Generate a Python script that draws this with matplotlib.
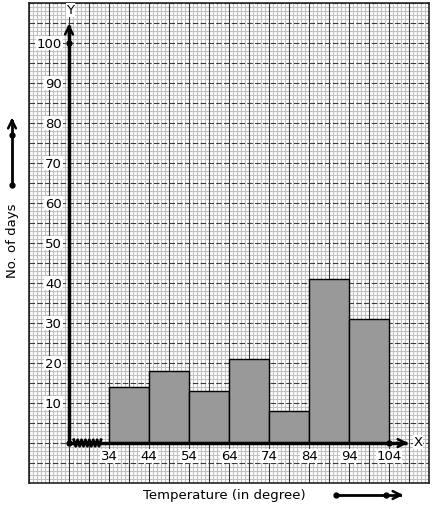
import numpy as np
import matplotlib
matplotlib.use("Agg")
import matplotlib.pyplot as plt

# Data
class_edges = [34, 44, 54, 64, 74, 84, 94, 104]
num_days = [14, 18, 13, 21, 8, 41, 31]
y_tick_values = [10, 20, 30, 40, 50, 60, 70, 80, 90, 100]
x_label_text = "Temperature (in degree)"
y_label_text = "No. of days"

fig = plt.figure(figsize=(4.34, 5.10), dpi=100)
ax = fig.add_axes([29/434, 26/510, 400/434, 480/510])
x0, x1, y0, y1 = 14, 114, -10, 110
ax.set_xlim(x0, x1)
ax.set_ylim(y0, y1)
ax.set_xticks([]); ax.set_yticks([])
for s in ax.spines.values():
    s.set_linewidth(1.2)
    s.set_color('#222222')

# graph paper
for v in np.arange(x0, x1 + 1, 1):
    if (v - x0) % 5:
        ax.axvline(v, color='#c2c2c2', lw=0.8, zorder=0)
for v in np.arange(y0, y1 + 1, 1):
    if (v - y0) % 5:
        ax.axhline(v, color='#c2c2c2', lw=0.8, zorder=0)
for v in np.arange(x0, x1 + 1, 5):
    ax.axvline(v, color='#3c3c3c', lw=0.8, zorder=1)
for v in np.arange(y0, y1 + 1, 5):
    ax.axhline(v, color='#3c3c3c', lw=0.8, ls=(0, (5, 2)), zorder=1)

# bars
ax.bar(class_edges[:-1], num_days, width=np.diff(class_edges), align='edge',
       color='#999999', edgecolor='black', lw=1.0, zorder=3)

# axes
ox = 24
ax.plot([ox, ox], [0, 104.5], color='black', lw=2.5, zorder=5, solid_capstyle='butt')
ax.annotate('', xy=(ox, 105.5), xytext=(ox, 101), zorder=6,
            arrowprops=dict(arrowstyle='->', lw=1.8, color='black', mutation_scale=14))
ax.plot([ox, 108.5], [0, 0], color='black', lw=2.5, zorder=5, solid_capstyle='butt')
ax.annotate('', xy=(109.5, 0), xytext=(105, 0), zorder=6,
            arrowprops=dict(arrowstyle='->', lw=1.8, color='black', mutation_scale=14))
ax.plot([ox, ox, class_edges[-1]], [0, 100, 0], 'o', color='black', ms=3.5, zorder=7)
ax.text(ox + 0.3, 108.3, 'Y', ha='center', va='center', fontsize=9.5, zorder=8,
        bbox=dict(facecolor='white', edgecolor='none', pad=0.5))
ax.text(111.3, 0.3, 'X', ha='center', va='center', fontsize=9.5, zorder=8,
        bbox=dict(facecolor='white', edgecolor='none', pad=0.5))

# zigzag kink
zx = np.linspace(25.2, 32, 15)
zy = np.array([1, -1] * 8)[:15] * 0.8
ax.plot(zx, zy, color='black', lw=2.0, zorder=7)

# tick labels
for v in y_tick_values:
    ax.text(ox - 1.8, v, str(v), ha='right', va='center', fontsize=9.5, zorder=8,
            bbox=dict(facecolor='white', edgecolor='none', pad=0.6))
for v in class_edges:
    ax.text(v, -3.2, str(v), ha='center', va='center', fontsize=9.5, zorder=8,
            bbox=dict(facecolor='white', edgecolor='none', pad=0.6))

# axis titles and arrows outside
fig.text(143/434, 1 - 496/510, x_label_text, ha='left', va='center', fontsize=9.5)
fig.text(13/434, 1 - 241/510, y_label_text, ha='center', va='center', fontsize=9.5, rotation=90)

fa = fig.add_axes([0, 0, 1, 1], facecolor='none')
fa.set_xlim(0, 434); fa.set_ylim(510, 0); fa.axis('off')
fa.plot([12, 12], [186, 122], color='black', lw=2)
fa.annotate('', xy=(12, 116), xytext=(12, 126),
            arrowprops=dict(arrowstyle='->', lw=1.8, color='black', mutation_scale=14))
fa.plot([12, 12], [186, 136], 'o', color='black', ms=3.5)
fa.plot([336, 400], [496, 496], color='black', lw=2)
fa.annotate('', xy=(406, 496), xytext=(396, 496),
            arrowprops=dict(arrowstyle='->', lw=1.8, color='black', mutation_scale=14))
fa.plot([336, 386], [496, 496], 'o', color='black', ms=3.5)

fig.savefig('out.png', dpi=100)
